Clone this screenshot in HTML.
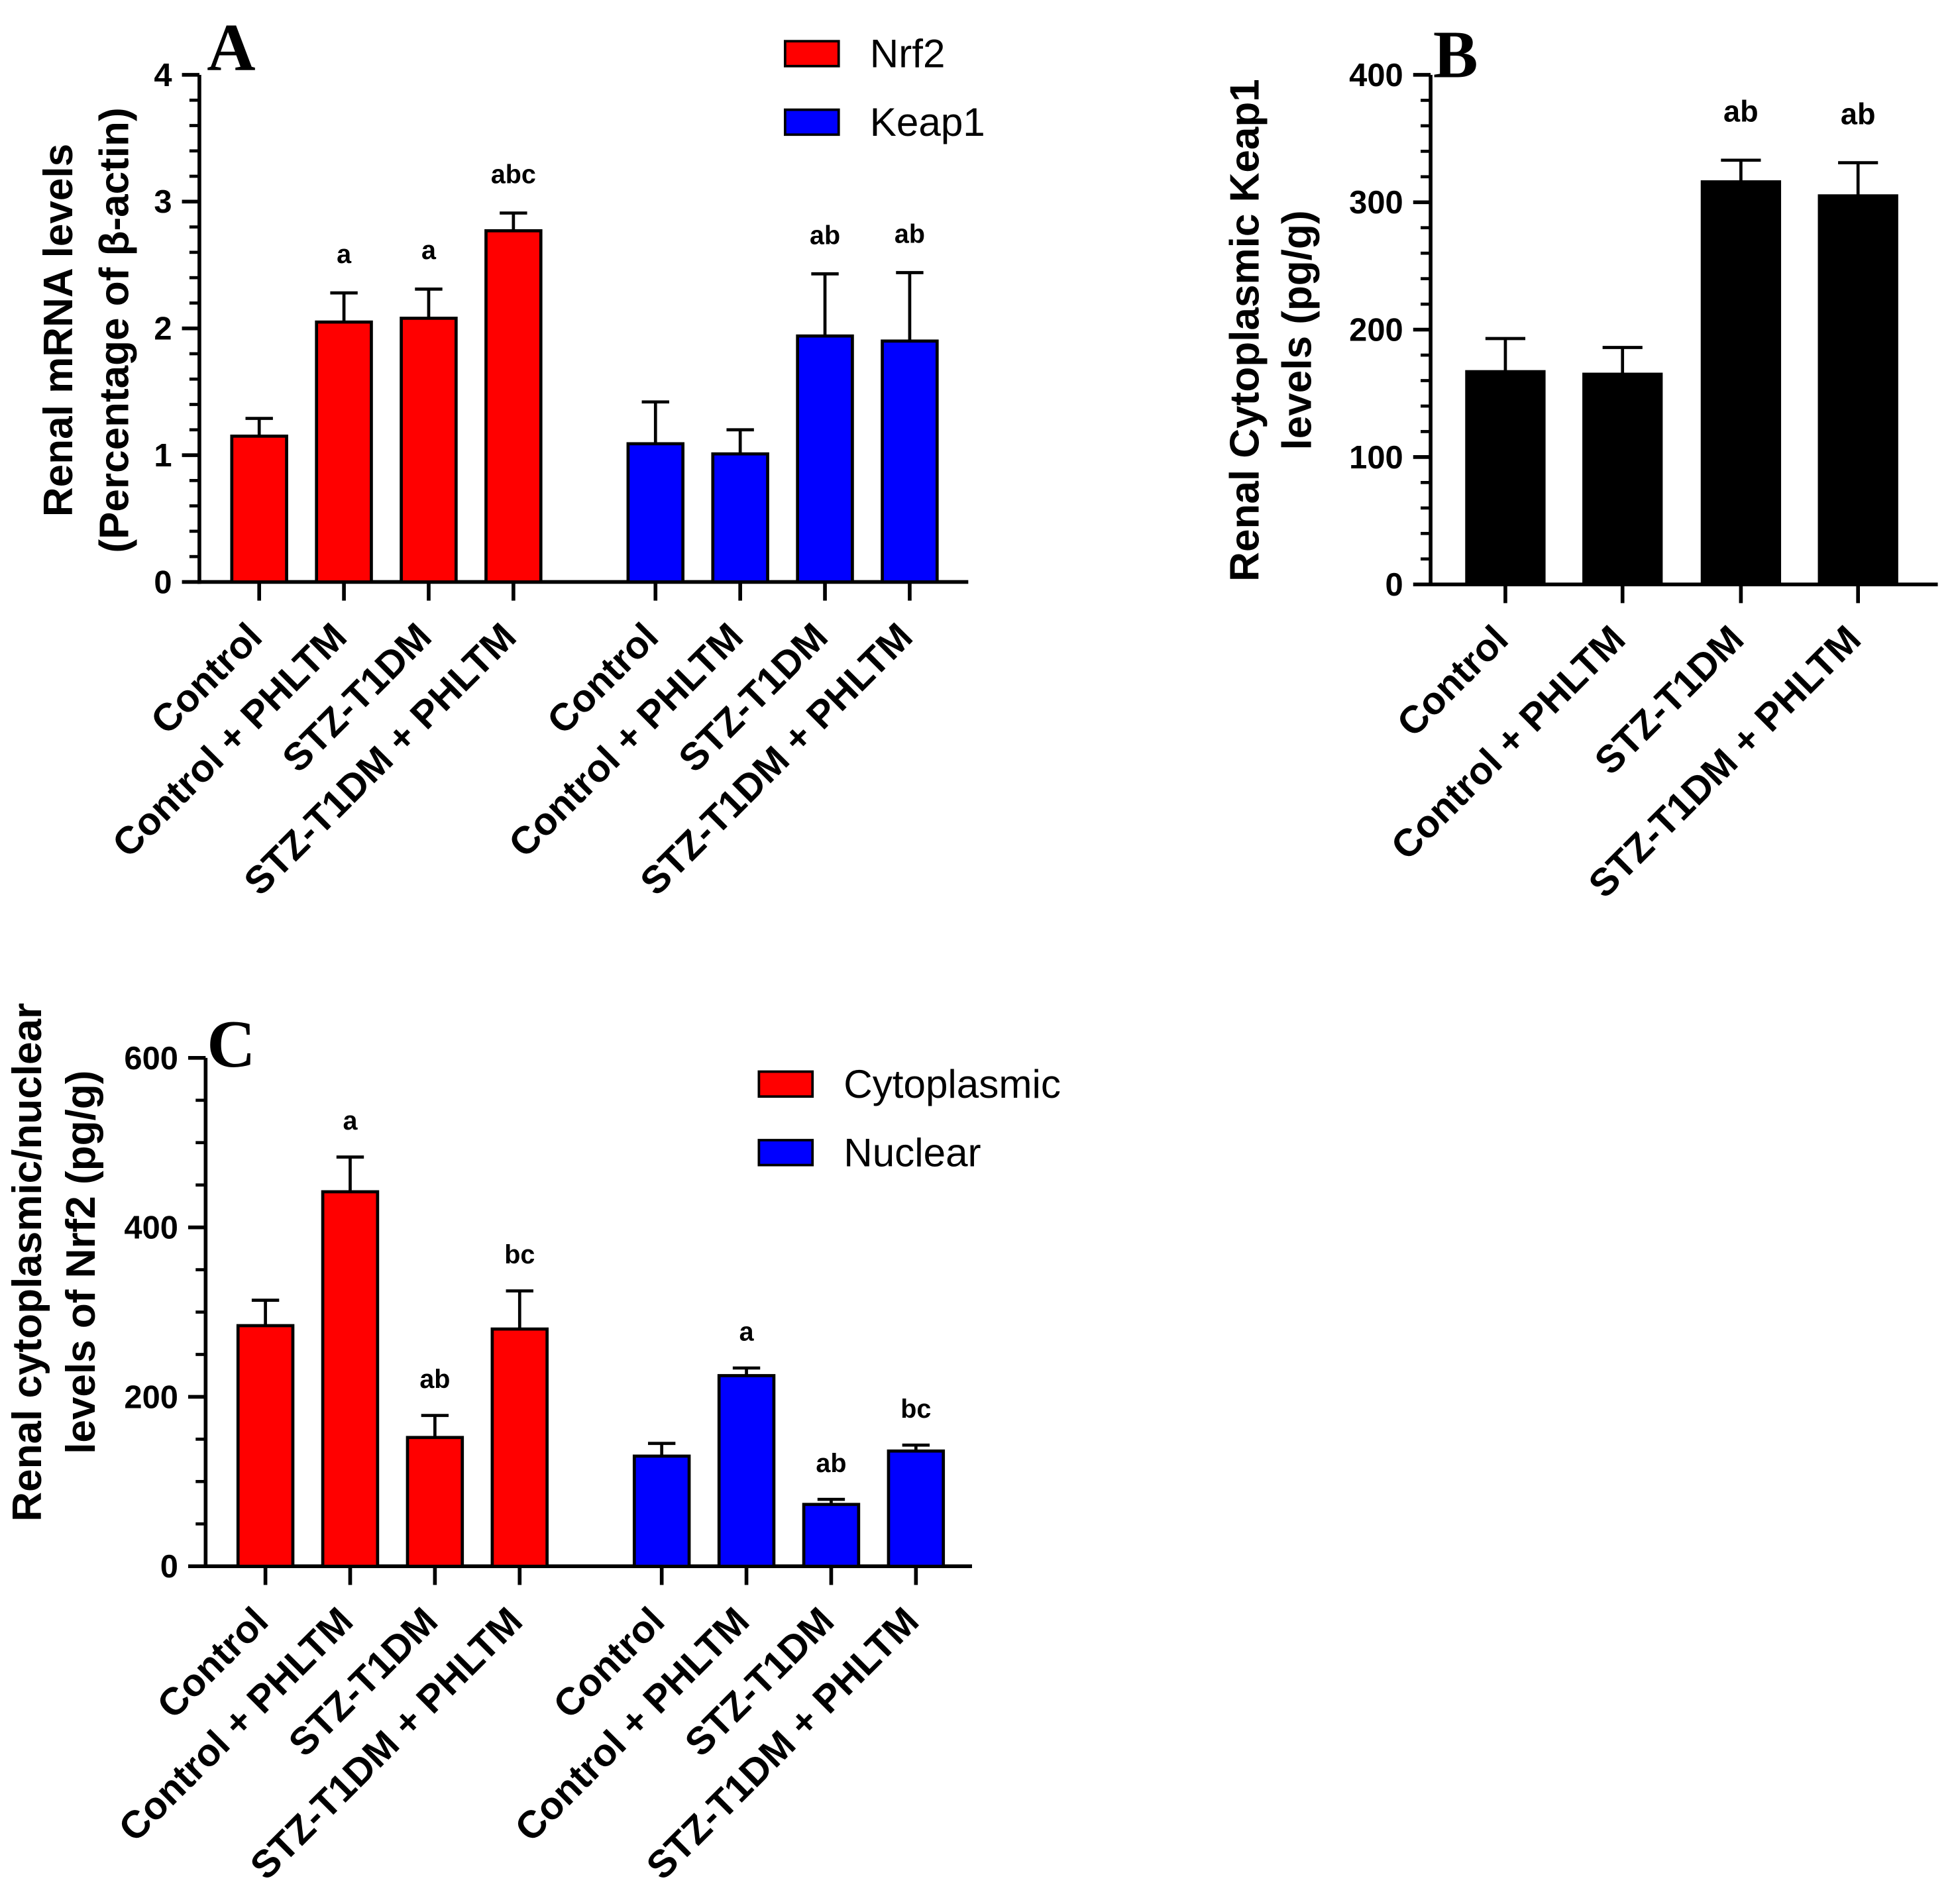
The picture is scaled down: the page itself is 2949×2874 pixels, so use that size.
<!DOCTYPE html>
<html><head><meta charset="utf-8"><style>
html,body{margin:0;padding:0;background:#fff}
svg{display:block}
</style></head><body>
<svg id="fig" xmlns="http://www.w3.org/2000/svg" width="2949" height="2874" viewBox="0 0 1568 1528" font-family="Liberation Sans, Arial, sans-serif">
<rect width="1568" height="1528" fill="#fff"/>
</svg>
<script>
const categories = ["Control","Control + PHLTM","STZ-T1DM","STZ-T1DM + PHLTM"];
const aNrf2 = [1.15, 2.05, 2.08, 2.77];
const aNrf2Err = [1.29, 2.28, 2.31, 2.91];
const aNrf2Sig = ["", "a", "a", "abc"];
const aKeap1 = [1.09, 1.01, 1.94, 1.90];
const aKeap1Err = [1.42, 1.20, 2.43, 2.44];
const aKeap1Sig = ["", "", "ab", "ab"];
const aTicks = [0,1,2,3,4];
const bKeap1 = [167, 165, 316, 305];
const bKeap1Err = [193, 186, 333, 331];
const bSig = ["", "", "ab", "ab"];
const bTicks = [0,100,200,300,400];
const cCyto = [284, 442, 152, 280];
const cCytoErr = [314, 483, 178, 325];
const cCytoSig = ["", "a", "ab", "bc"];
const cNuc = [130, 225, 73, 136];
const cNucErr = [145, 234, 79, 143];
const cNucSig = ["", "a", "ab", "bc"];
const cTicks = [0,200,400,600];

const NS="http://www.w3.org/2000/svg";
const svg=document.getElementById('fig');
function mk(tag,attrs,parent,txt){const e=document.createElementNS(NS,tag);for(const k in attrs)e.setAttribute(k,attrs[k]);if(txt!==undefined)e.textContent=txt;(parent||svg).appendChild(e);return e;}

function panel(o){
  const g=mk('g',{});
  
  
  const y=v=>o.y0-(v-o.min)/(o.max-o.min)*(o.y0-o.y1);
  const ya=mk('line',{x1:o.ax,y1:o.y0+1.5,x2:o.ax,y2:o.y1,stroke:'#000','stroke-width':3},g);
  
  
  const xa=mk('line',{x1:o.ax-1.5,y1:o.y0,x2:o.axEnd,y2:o.y0,stroke:'#000','stroke-width':3},g);
  
  
  const step=o.ticks[1]-o.ticks[0];
  for(let i=0;i<o.ticks.length-1;i++){for(let j=1;j<o.minor;j++){const v=o.ticks[i]+step*j/o.minor;mk('line',{x1:o.ax-8,x2:o.ax,y1:y(v),y2:y(v),stroke:'#000','stroke-width':2.5},g);}}
  o.ticks.forEach(t=>{
    mk('line',{x1:o.ax-14,x2:o.ax,y1:y(t),y2:y(t),stroke:'#000','stroke-width':3},g);
    const tl=mk('text',{x:o.ax-22,y:y(t)+9,'text-anchor':'end','font-size':26,'font-weight':'bold'},g,String(t));
    
    
  });
  o.series.forEach(s=>{
    s.vals.forEach((v,i)=>{
      const cx=s.centers[i];
      const ey=y(s.err[i]);
      mk('line',{x1:cx,x2:cx,y1:ey,y2:y(v),stroke:'#000','stroke-width':2.5},g);
      mk('line',{x1:cx-o.capW/2,x2:cx+o.capW/2,y1:ey,y2:ey,stroke:'#000','stroke-width':2.5},g);
      const b=mk('rect',{x:cx-o.bw/2,y:y(v),width:o.bw,height:o.y0-y(v),fill:s.color,stroke:'#000','stroke-width':2.5},g);
      
      
      if(s.sig[i]){const st=mk('text',{x:cx,y:ey-o.sigGap,'text-anchor':'middle','font-size':o.sigSize,'font-weight':'bold'},g,s.sig[i]);
        
        }
      mk('line',{x1:cx,x2:cx,y1:o.y0,y2:o.y0+15,stroke:'#000','stroke-width':3},g);
      const lx=cx+4,ly=o.y0+46;
      const cl=mk('text',{x:lx,y:ly,'text-anchor':'end','font-size':31,'font-weight':'bold',transform:`rotate(-45 ${lx} ${ly})`},g,categories[i]);
      
      
    });
  });
  o.ylabel.forEach((l,i)=>{
    const t=mk('text',{x:l.x,y:o.labelCy,'text-anchor':'middle','font-size':33,'font-weight':'bold',transform:`rotate(-90 ${l.x} ${o.labelCy})`},g,l.t);
    
    
  });
  const L=mk('text',{x:o.letter[0],y:o.letter[1],'font-size':54,'font-weight':'bold','font-family':'Liberation Serif, serif'},g,o.letter[2]);
  
  
  (o.legend||[]).forEach(le=>{
    const r=mk('rect',{x:le.x,y:le.y,width:43,height:20,fill:le.color,stroke:'#000','stroke-width':2},g);
    
    
    const t=mk('text',{x:le.x+68,y:le.y+21,'font-size':32},g,le.t);
    
    
  });
}

panel({name:'panel-a',ax:160,axEnd:777,y0:467,y1:60,min:0,max:4,ticks:aTicks,minor:5,bw:44,capW:22,sigGap:24,sigSize:21,
  series:[{key:'nrf2',vals:aNrf2,err:aNrf2Err,sig:aNrf2Sig,color:'#ff0000',centers:[208,276,344,412]},
          {key:'keap1',vals:aKeap1,err:aKeap1Err,sig:aKeap1Sig,color:'#0000ff',centers:[526,594,662,730]}],
  ylabel:[{x:58,t:'Renal mRNA levels'},{x:103,t:'(Percentage of β-actin)'}],labelCy:265,
  letter:[166,56,'A'],
  legend:[{x:630,y:33,color:'#ff0000',t:'Nrf2'},{x:630,y:88,color:'#0000ff',t:'Keap1'}]});

panel({name:'panel-b',ax:1148,axEnd:1555,y0:469,y1:60,min:0,max:400,ticks:bTicks,minor:5,bw:62,capW:32,sigGap:31,sigSize:24,
  series:[{key:'keap1',vals:bKeap1,err:bKeap1Err,sig:bSig,color:'#000000',centers:[1208,1302,1397,1491]}],
  ylabel:[{x:1010,t:'Renal Cytoplasmic Keap1'},{x:1052,t:'levels (pg/g)'}],labelCy:265,
  letter:[1150,62,'B']});

panel({name:'panel-c',ax:165,axEnd:780,y0:1257,y1:849,min:0,max:600,ticks:cTicks,minor:4,bw:44,capW:22,sigGap:22,sigSize:21,
  series:[{key:'cytoplasmic',vals:cCyto,err:cCytoErr,sig:cCytoSig,color:'#ff0000',centers:[213,281,349,417]},
          {key:'nuclear',vals:cNuc,err:cNucErr,sig:cNucSig,color:'#0000ff',centers:[531,599,667,735]}],
  ylabel:[{x:33,t:'Renal cytoplasmic/nuclear'},{x:76,t:'levels of Nrf2 (pg/g)'}],labelCy:1013,
  letter:[166,856,'C'],
  legend:[{x:609,y:860,color:'#ff0000',t:'Cytoplasmic'},{x:609,y:915,color:'#0000ff',t:'Nuclear'}]});
</script>
</body></html>
